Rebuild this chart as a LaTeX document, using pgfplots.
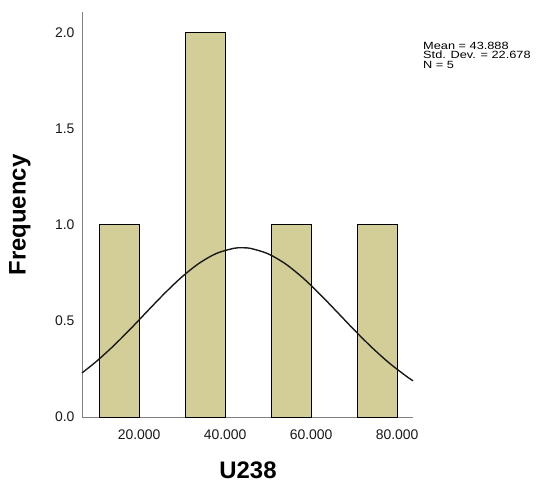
\documentclass[border=0pt]{standalone}
\usepackage{pgfplots}
\pgfplotsset{compat=1.18}
\usepackage{fontspec}
\setmainfont{Liberation Sans}
\definecolor{barfill}{RGB}{211,206,151}
\definecolor{axgray}{RGB}{128,128,128}
\begin{document}
\begin{tikzpicture}
\useasboundingbox (-82bp,-74bp) rectangle (455bp,417bp);
\begin{axis}[
  scale only axis,
  width=331bp, height=405bp,
  anchor=south west, at={(0,0)},
  xmin=6.7, xmax=83.7,
  ymin=0, ymax=2.105,
  axis lines=left,
  axis line style={draw=axgray, line width=0.9pt, -},
  major tick length=0pt,
  xtick={20,40,60,80},
  xticklabels={20.000,40.000,60.000,80.000},
  ytick={0,0.5,1,1.5,2},
  yticklabels={0.0,0.5,1.0,1.5,2.0},
  ticklabel style={font=\fontsize{14}{16}\selectfont, text=black!90},
  xticklabel style={yshift=-9bp},
  yticklabel style={xshift=-4bp},
  /pgf/number format/assume math mode=true,
  clip=false,
]
\addplot[ybar, bar width=9.3, bar shift=0pt, fill=barfill, draw=black, line width=1pt] coordinates {
  (15.35,1) (35.35,2) (55.35,1) (75.35,1)
};
\addplot[smooth, black!90, line width=1.4pt, mark=none] coordinates {
  (6.7,0.2293) (10,0.2880) (14,0.3691) (18,0.4585) (22,0.5521) (26,0.6445)
  (30,0.7292) (34,0.7998) (38,0.8505) (42,0.8766) (43.888,0.8796) (46,0.8758)
  (50,0.8482) (54,0.7964) (58,0.7248) (62,0.6394) (66,0.5468) (70,0.4533)
  (74,0.3643) (78,0.2838) (82,0.2143) (83.7,0.1883)
};
\end{axis}
\node[rotate=90, font=\fontsize{24}{26}\selectfont\bfseries] at (-62bp,202bp) {Frequency};
\node[font=\fontsize{24}{26}\selectfont\bfseries] at (166bp,-53bp) {U238};
\node[anchor=north west, inner sep=0pt, align=left, font=\fontsize{10.5}{9.5}\selectfont] at (341bp,375bp)
  {\scalebox{1.22}[1]{Mean = 43.888}\\\scalebox{1.22}[1]{Std. Dev. = 22.678}\\\scalebox{1.22}[1]{N = 5}};
\end{tikzpicture}
\end{document}
